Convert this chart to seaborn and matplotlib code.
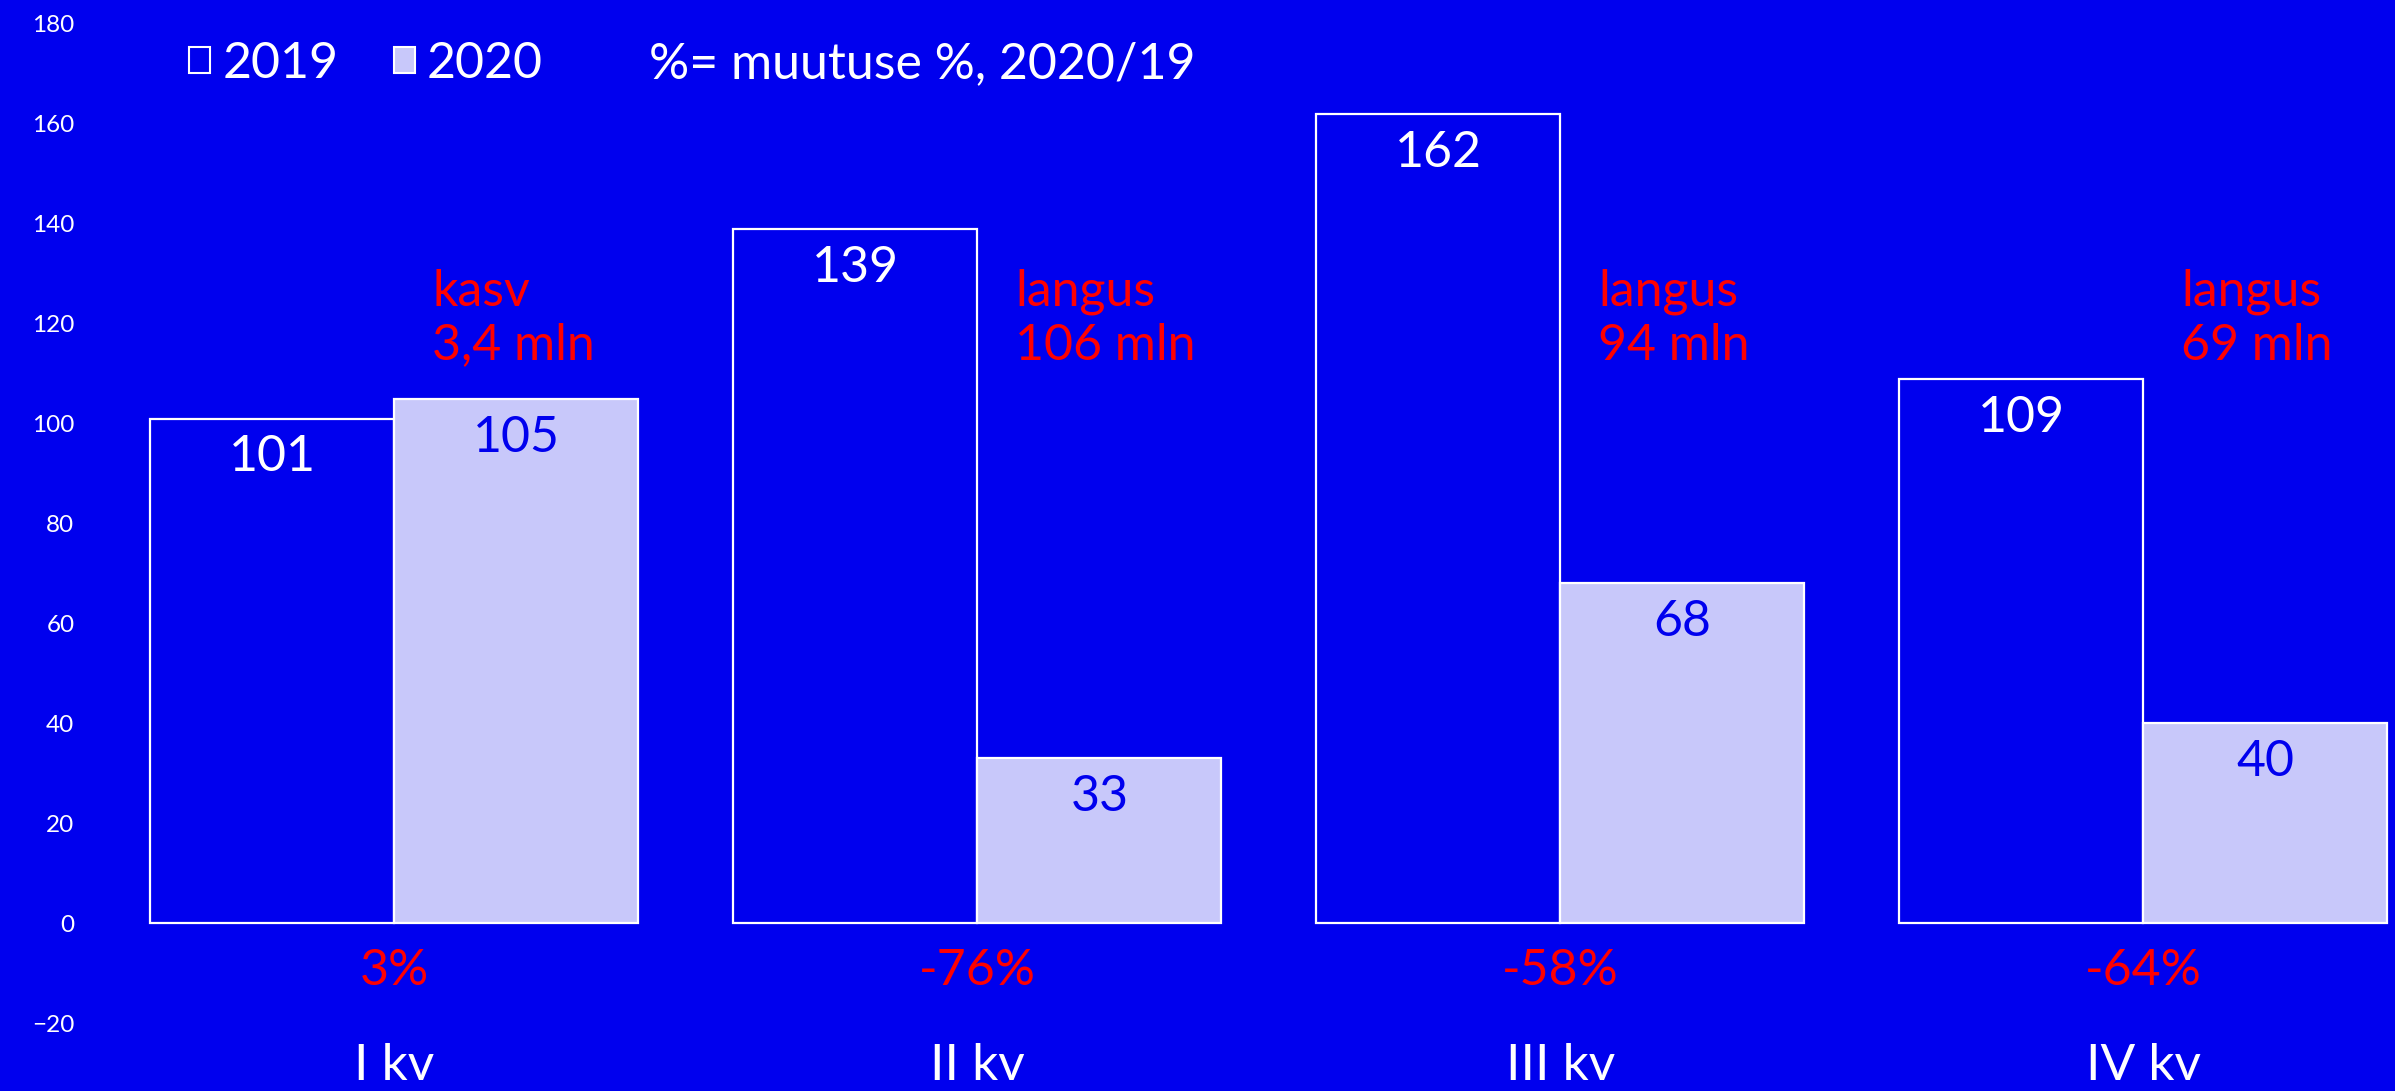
import matplotlib
matplotlib.use("Agg")
import matplotlib.pyplot as plt
from matplotlib.patches import Patch
import pandas as pd
import seaborn as sns

# ── Data ─────────────────────────────────────────────────────────────────────
quarters = ["I kv", "II kv", "III kv", "IV kv"]
values_2019 = [101, 139, 162, 109]
values_2020 = [105, 33, 68, 40]
change_pct = ["3%", "-76%", "-58%", "-64%"]
change_notes = ["kasv\n3,4 mln", "langus\n106 mln", "langus\n94 mln", "langus\n69 mln"]
years = ["2019", "2020"]
y_ticks = [-20, 0, 20, 40, 60, 80, 100, 120, 140, 160, 180]

BG = "#0000EE"
LIGHT = "#C8C8FA"
RED = "#FF0000"
FONT = "Lato"

sns.set_theme(style="white")
plt.rcParams.update({
    "font.family": [FONT, "DejaVu Sans"],
    "axes.facecolor": BG,
    "figure.facecolor": BG,
})

df = pd.DataFrame({
    "quarter": quarters * 2,
    "year": [years[0]] * 4 + [years[1]] * 4,
    "value": values_2019 + values_2020,
})

W, H = 2395, 1091
fig = plt.figure(figsize=(W / 100, H / 100), dpi=100)
ax = fig.add_axes([80 / W, 51 / H, 1 - 80 / W, 1 - 51 / H])

sns.barplot(data=df, x="quarter", y="value", hue="year", order=quarters,
            hue_order=years, palette={"2019": BG, "2020": LIGHT},
            width=0.838, gap=0, saturation=1, edgecolor="white",
            linewidth=1.6, legend=False, ax=ax)

ax.set_xlim(-0.539, 3.432)
ax.set_ylim(-23.4, 184.8)
ax.set_yticks(y_ticks)
ax.tick_params(axis="y", length=0, pad=4, labelsize=17.5, labelcolor="white")
ax.tick_params(axis="x", length=0, pad=2, labelsize=37, labelcolor="white")
ax.set_xlabel("")
ax.set_ylabel("")
for s in ax.spines.values():
    s.set_visible(False)

# value labels inside bar tops
for cont, col in zip(ax.containers, ["white", BG]):
    for bar in cont:
        ax.annotate(f"{bar.get_height():.0f}",
                    (bar.get_x() + bar.get_width() / 2, bar.get_height()),
                    xytext=(0, -28), textcoords="offset points",
                    ha="center", va="center", color=col, fontsize=36)

# change notes and percentages
for i, (pct, note) in enumerate(zip(change_pct, change_notes)):
    ax.text(i + 0.065, 121, note, ha="left", va="center", color=RED,
            fontsize=36, linespacing=1.2)
    ax.text(i, -9.5, pct, ha="center", va="center", color=RED, fontsize=36)

handles = [Patch(facecolor=BG, edgecolor="white", linewidth=1.5),
           Patch(facecolor=LIGHT, edgecolor="white", linewidth=1.5)]
leg = fig.legend(handles, years, loc="center left",
                 bbox_to_anchor=(189 / W, 1 - 64 / H), frameon=False,
                 ncol=2, fontsize=36, handlelength=0.42, handleheight=0.42,
                 handletextpad=0.25, columnspacing=1.1, borderpad=0,
                 borderaxespad=0)
for t in leg.get_texts():
    t.set_color("white")
fig.text(649 / W, 1 - 64 / H, "%= muutuse %, 2020/19", ha="left", va="center",
         color="white", fontsize=36)

fig.savefig("out.png", dpi=100, facecolor=BG)
